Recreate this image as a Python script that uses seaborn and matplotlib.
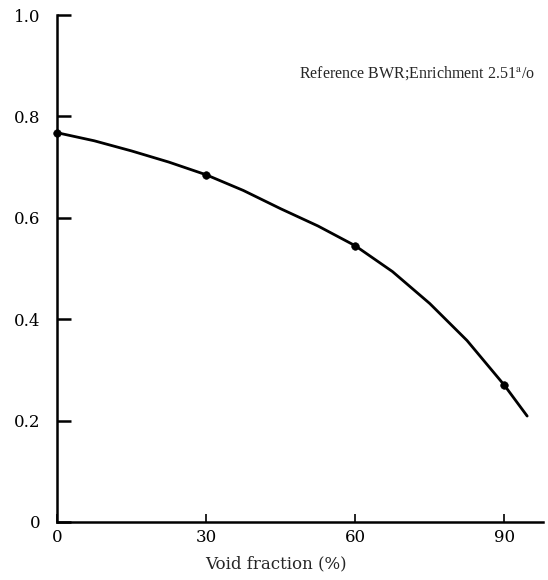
import matplotlib
matplotlib.use("Agg")
import matplotlib.pyplot as plt
import seaborn as sns
import pandas as pd

# data
point_x = [0, 30, 60, 90]
point_y = [0.768, 0.685, 0.545, 0.270]
curve_x = [0, 7.5, 15, 22.5, 30, 37.5, 45, 52.5, 60, 67.5, 75, 82.5, 90, 94.6]
curve_y = [0.768, 0.752, 0.732, 0.710, 0.685, 0.654, 0.618, 0.584, 0.545, 0.494, 0.431, 0.358, 0.270, 0.209]
x_ticks = [0, 30, 60, 90]
y_ticks = [0, 0.2, 0.4, 0.6, 0.8, 1.0]
y_tick_labels = ["0", "0.2", "0.4", "0.6", "0.8", "1.0"]
annotation = "Reference BWR;Enrichment 2.51$^{\\mathrm{a}}$/o"
x_label = "Void fraction (%)"

sns.set_style("white")
plt.rcParams["font.family"] = ["DejaVu Serif"]
plt.rcParams["mathtext.fontset"] = "dejavuserif"

fig = plt.figure(figsize=(5.48, 5.80), dpi=100)
ax = fig.add_axes([0.104, 0.1, 0.887, 0.874])

curve = pd.DataFrame({"x": curve_x, "y": curve_y})
pts = pd.DataFrame({"x": point_x, "y": point_y})
sns.lineplot(data=curve, x="x", y="y", ax=ax, color="black", linewidth=2.0, sort=False)
sns.scatterplot(data=pts, x="x", y="y", ax=ax, color="black", s=30, zorder=5,
                edgecolor="black", clip_on=False)

ax.set_xlim(0, 97.8)
ax.set_ylim(0, 1.0)
for s in ["top", "right"]:
    ax.spines[s].set_visible(False)
for s in ["left", "bottom"]:
    ax.spines[s].set_linewidth(1.8)
    ax.spines[s].set_color("black")

ax.set_xticks(x_ticks)
ax.set_xticklabels([str(v) for v in x_ticks], fontsize=12)
ax.set_yticks(y_ticks)
ax.set_yticklabels(y_tick_labels, fontsize=12)
ax.tick_params(axis="y", left=True, direction="in", length=10, width=1.8, pad=12, colors="black")
ax.tick_params(axis="x", bottom=True, direction="in", length=6, width=1.2, pad=5, colors="black")

ax.set_xlabel(x_label, fontsize=12)
ax.set_ylabel("")
ax.xaxis.set_label_coords(0.45, -0.065)

ax.text(48.7, 0.886, annotation, fontsize=11.5, va="center", ha="left",
        family=["Liberation Serif"], math_fontfamily="stix")

fig.savefig("out.png", dpi=100)
